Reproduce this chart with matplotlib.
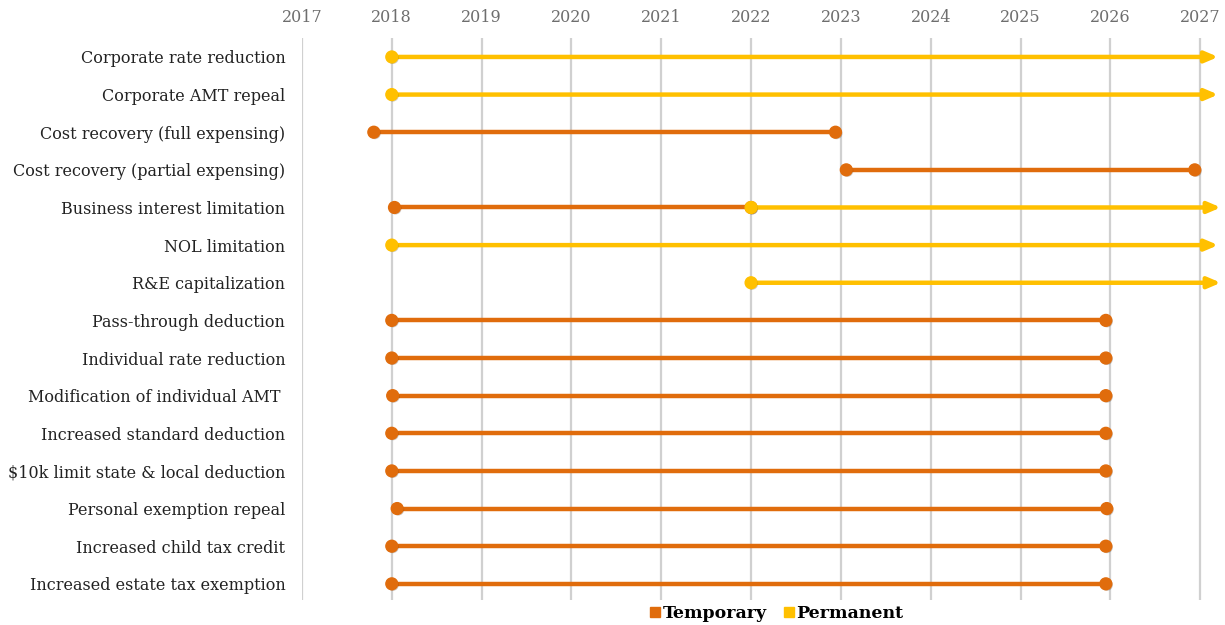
import matplotlib
matplotlib.use("Agg")
import matplotlib.pyplot as plt
import matplotlib.patheffects as pe
from matplotlib.lines import Line2D

labels = [
    "Corporate rate reduction",
    "Corporate AMT repeal",
    "Cost recovery (full expensing)",
    "Cost recovery (partial expensing)",
    "Business interest limitation",
    "NOL limitation",
    "R&E capitalization",
    "Pass-through deduction",
    "Individual rate reduction",
    "Modification of individual AMT ",
    "Increased standard deduction",
    "$10k limit state & local deduction",
    "Personal exemption repeal",
    "Increased child tax credit",
    "Increased estate tax exemption",
]

# segments: row index, start year, end year, kind
seg_row = [0, 1, 2, 3, 4, 4, 5, 6, 7, 8, 9, 10, 11, 12, 13, 14]
seg_start = [2018.0, 2018.0, 2017.8, 2023.06, 2018.03, 2022.0, 2018.0, 2022.0,
             2018.0, 2018.0, 2018.01, 2018.0, 2018.0, 2018.06, 2018.0, 2018.0]
seg_end = [2027.2, 2027.2, 2022.94, 2026.94, 2022.0, 2027.23, 2027.2, 2027.23,
           2025.95, 2025.95, 2025.95, 2025.95, 2025.95, 2025.96, 2025.95, 2025.95]
seg_kind = ["Permanent", "Permanent", "Temporary", "Temporary", "Temporary", "Permanent",
            "Permanent", "Permanent", "Temporary", "Temporary", "Temporary", "Temporary",
            "Temporary", "Temporary", "Temporary", "Temporary"]

years = list(range(2017, 2028))
colors = {"Temporary": "#E06C0C", "Permanent": "#FFC000"}

serif = ["DejaVu Serif"]

fig = plt.figure(figsize=(12.25, 6.25), dpi=100)
ax = fig.add_axes([0.2465, 0.04, 0.7523, 0.899])
ax.set_xlim(2017, 2027.26)
ax.set_ylim(len(labels) - 0.57, -0.5)

shadow = [pe.SimplePatchShadow(offset=(0.8, -0.8), alpha=0.25), pe.Normal()]

order = sorted(range(len(seg_row)), key=lambda i: 0 if seg_kind[i] == "Temporary" else 1)
for i in order:
    y = seg_row[i]
    c = colors[seg_kind[i]]
    if seg_kind[i] == "Permanent":
        ann = ax.annotate("", xy=(seg_end[i], y), xytext=(seg_start[i], y),
                          arrowprops=dict(arrowstyle="-|>,head_length=0.75,head_width=0.32",
                                          color=c, lw=3.2, shrinkA=0, shrinkB=0),
                          zorder=3)
        ann.arrow_patch.set_path_effects(shadow)
        ax.plot([seg_start[i]], [y], "o", color=c, markersize=8.5, zorder=4,
                path_effects=shadow)
    else:
        ax.plot([seg_start[i], seg_end[i]], [y, y], "-o", color=c, lw=3.2,
                markersize=8.5, zorder=3, path_effects=shadow, solid_capstyle="butt")

ax.set_xticks(years)
ax.set_xticklabels([str(y) for y in years])
ax.xaxis.tick_top()
ax.tick_params(axis="x", length=0, pad=9, labelsize=11.5, labelcolor="#6e6e6e")
for t in ax.get_xticklabels():
    t.set_family(serif)

ax.set_yticks(range(len(labels)))
ax.set_yticklabels(labels)
ax.tick_params(axis="y", length=0, pad=12, labelsize=11.5, labelcolor="#222222")
for t in ax.get_yticklabels():
    t.set_family(serif)

ax.grid(axis="x", color="#d0d0d0", lw=1.6, zorder=0)
ax.set_axisbelow(True)
for s in ax.spines.values():
    s.set_visible(False)

handles = [Line2D([], [], marker="s", ls="none", color=colors[k], markersize=7,
                  markeredgecolor=colors[k]) for k in ["Temporary", "Permanent"]]
leg = fig.legend(handles, ["Temporary", "Permanent"], loc="center",
                 bbox_to_anchor=(0.634, 0.018), ncol=2, frameon=False,
                 handlelength=0.6, handletextpad=0.1, columnspacing=1.0,
                 prop=dict(family=serif, weight="bold", size=12.5))

fig.savefig("out.png", dpi=100, facecolor="white")
